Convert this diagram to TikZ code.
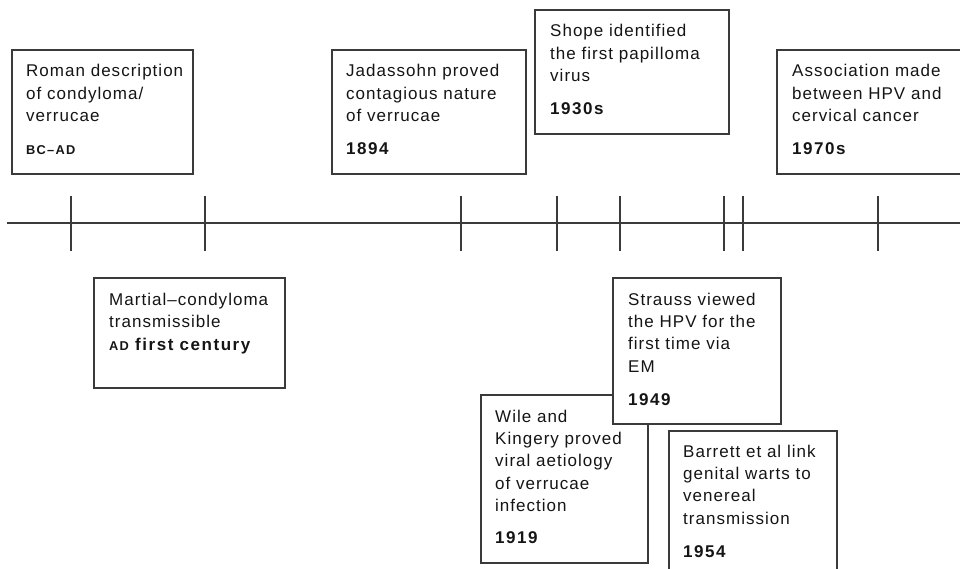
\documentclass[tikz,border=0pt]{standalone}
\usepackage{fontspec}
\setmainfont{Liberation Sans}[LetterSpace=6]
\newcommand\bodyf{\fontsize{17}{22.4}\selectfont}
\newcommand\datef{\fontsize{17}{20}\selectfont\bfseries\addfontfeature{LetterSpace=9}}
\newcommand\scf{\fontsize{12.8}{14}\selectfont\bfseries\addfontfeature{LetterSpace=10}}
\newcommand\lines[1]{\vtop{\halign{##\hfil\cr#1\crcr}}}
\definecolor{linec}{HTML}{3A3A3A}
\definecolor{txtc}{HTML}{151515}
\tikzset{
  evbox/.style={draw=linec, line width=1.4pt, fill=white, rectangle, inner sep=0pt},
  txt/.style={anchor=base west, inner sep=0pt, font=\bodyf, text=txtc},
  dt/.style={anchor=base west, inner sep=0pt, font=\datef, text=txtc},
  axis/.style={draw=linec, line width=1.5pt},
  tick/.style={draw=linec, line width=1.2pt}
}
\newcommand\evbox[5]{\node[evbox, minimum width={#4-#2}, minimum height={#5-#3}] (#1) at ({(#2+#4)/2},{(#3+#5)/2}) {};}
\begin{document}
\begin{tikzpicture}[x=1pt,y=-1pt]
\useasboundingbox (0,0) rectangle (960,569);
\clip (0,0) rectangle (960,569);
% timeline
\coordinate (tl0) at (7,223);
\coordinate (tl1) at (962,223);
\draw[axis] (tl0) -- (tl1);
\foreach \x/\n in {71/a,205/b,461/c,557/d,620/e,724/f,743/g,878/h}{
  \coordinate (tk\n top) at (\x,196);
  \coordinate (tk\n bot) at (\x,251);
  \draw[tick] (tk\n top) -- (tk\n bot);
}
% boxes
\evbox{roman}{12}{50}{193}{174}
\evbox{martial}{94}{278}{285}{388}
\evbox{jadassohn}{332}{50}{526}{174}
\evbox{shope}{535}{10}{729}{134}
\evbox{assoc}{777}{50}{975}{174}
\evbox{wile}{481}{395}{648}{563}
\evbox{strauss}{613}{278}{781}{424}
\evbox{barrett}{669}{431}{837}{590}
% texts
\node[txt] (romant) at (26,77) {\lines{Roman description\cr of condyloma/\cr verrucae}};
\node[dt] (romand) at (26,155) {\scf BC–AD};
\node[txt] (martialt) at (109,305) {\lines{Martial–condyloma\cr transmissible}};
\node[dt] (martiald) at (109,350) {{\scf AD}\ first century};
\node[txt] (jadt) at (346,77) {\lines{Jadassohn proved\cr contagious nature\cr of verrucae}};
\node[dt] (jadd) at (346,155) {1894};
\node[txt] (shopet) at (550,37) {\lines{Shope identified\cr the first papilloma\cr virus}};
\node[dt] (shoped) at (550,115) {1930s};
\node[txt] (assoct) at (792,77) {\lines{Association made\cr between HPV and\cr cervical cancer}};
\node[dt] (assocd) at (792,155) {1970s};
\node[txt] (wilet) at (495,422) {\lines{Wile and\cr Kingery proved\cr viral aetiology\cr of verrucae\cr infection}};
\node[dt] (wiled) at (495,543) {1919};
\node[txt] (strausst) at (628,305) {\lines{Strauss viewed\cr the HPV for the\cr first time via\cr EM}};
\node[dt] (straussd) at (628,405) {1949};
\node[txt] (barrettt) at (683,457) {\lines{Barrett et al link\cr genital warts to\cr venereal\cr transmission}};
\node[dt] (barrettd) at (683,557) {1954};
\end{tikzpicture}
\end{document}
